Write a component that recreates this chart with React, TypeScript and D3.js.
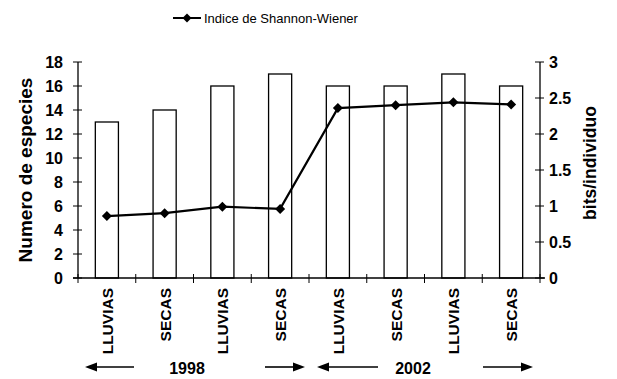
import React from "react";
import * as d3 from "d3";

const categories = ["LLUVIAS", "SECAS", "LLUVIAS", "SECAS", "LLUVIAS", "SECAS", "LLUVIAS", "SECAS"];
const species = [13, 14, 16, 17, 16, 16, 17, 16];
const shannon = [0.86, 0.9, 0.99, 0.96, 2.36, 2.4, 2.44, 2.41];
const leftTicks = [0, 2, 4, 6, 8, 10, 12, 14, 16, 18];
const rightTicks = [0, 0.5, 1, 1.5, 2, 2.5, 3];
const years = ["1998", "2002"];
const legendLabel = "Indice de Shannon-Wiener";

const W = 617, H = 379;
const M = { left: 78, right: 540, top: 62, bottom: 278 };
const FONT = "Liberation Sans, Arial, sans-serif";

export default function App() {
  const idx = categories.map((_, i) => String(i));
  const x = d3.scaleBand().domain(idx).range([M.left, M.right]).paddingInner(0.6).paddingOuter(0.3);
  const xb = d3.scaleLinear().domain([0, categories.length]).range([M.left, M.right]);
  const yL = d3.scaleLinear().domain([0, 18]).range([M.bottom, M.top]);
  const yR = d3.scaleLinear().domain([0, 3]).range([M.bottom, M.top]);
  const cx = (i: number) => (x(String(i)) as number) + x.bandwidth() / 2;
  const line = d3.line<number>().x((_, i) => cx(i)).y((d) => yR(d));
  const diamond = (px: number, py: number, r = 5) =>
    `M${px},${py - r}L${px + r},${py}L${px},${py + r}L${px - r},${py}Z`;

  const arrow = (x1: number, x2: number, y: number, key: string) => {
    const dir = Math.sign(x2 - x1);
    return (
      <g key={key}>
        <line x1={x1} x2={x2 - dir * 8} y1={y} y2={y} stroke="#000" strokeWidth={1.6} />
        <path d={`M${x2},${y}L${x2 - dir * 12},${y - 4.5}L${x2 - dir * 12},${y + 4.5}Z`} fill="#000" />
      </g>
    );
  };

  return (
    <svg width={W} height={H} style={{ position: "absolute", left: 0, top: 0, background: "#fff" }} fontFamily={FONT}>
      <rect width={W} height={H} fill="#fff" />
      {/* legend */}
      <line x1={173} x2={201} y1={18} y2={18} stroke="#000" strokeWidth={2} />
      <path d={diamond(187, 18, 4.5)} fill="#000" />
      <text x={204} y={22.5} fontSize={13} fill="#000">{legendLabel}</text>

      {/* bars */}
      {species.map((v, i) => (
        <rect key={i} x={x(String(i))} y={yL(v)} width={x.bandwidth()} height={M.bottom - yL(v)}
          fill="#fff" stroke="#000" strokeWidth={1.3} />
      ))}

      {/* axes */}
      <line x1={M.left} x2={M.left} y1={M.top} y2={M.bottom} stroke="#000" strokeWidth={1.3} />
      <line x1={M.right} x2={M.right} y1={M.top} y2={M.bottom} stroke="#000" strokeWidth={1.3} />
      <line x1={M.left - 5} x2={M.right + 5} y1={M.bottom} y2={M.bottom} stroke="#000" strokeWidth={1.3} />
      {leftTicks.map((t) => (
        <g key={"l" + t}>
          <line x1={M.left - 5} x2={M.left + 4} y1={yL(t)} y2={yL(t)} stroke="#000" strokeWidth={1} />
          <text x={63} y={yL(t) + 6} textAnchor="end" fontSize={16} fontWeight="bold">{t}</text>
        </g>
      ))}
      {rightTicks.map((t) => (
        <g key={"r" + t}>
          <line x1={M.right - 5} x2={M.right + 4} y1={yR(t)} y2={yR(t)} stroke="#000" strokeWidth={1} />
          <text x={549} y={yR(t) + 6} textAnchor="start" fontSize={16} fontWeight="bold">{t}</text>
        </g>
      ))}
      {d3.range(categories.length + 1).map((i) => (
        <line key={"x" + i} x1={xb(i)} x2={xb(i)} y1={M.bottom - 4} y2={M.bottom + 5} stroke="#000" strokeWidth={1} />
      ))}

      {/* line */}
      <path d={line(shannon) || ""} fill="none" stroke="#000" strokeWidth={2.2} />
      {shannon.map((v, i) => (
        <path key={"d" + i} d={diamond(cx(i), yR(v))} fill="#000" />
      ))}

      {/* category labels */}
      {categories.map((c, i) => (
        <text key={"c" + i} transform={`translate(${cx(i) + 6},288) rotate(-90)`} textAnchor="end"
          fontSize={15.5} fontWeight="bold">{c}</text>
      ))}

      {/* year labels */}
      <text x={187} y={374} textAnchor="middle" fontSize={16} fontWeight="bold">{years[0]}</text>
      <text x={413} y={374} textAnchor="middle" fontSize={16} fontWeight="bold">{years[1]}</text>
      {arrow(134, 85, 367, "a1")}
      {arrow(265, 305, 367, "a2")}
      {arrow(378, 317, 367, "a3")}
      {arrow(483, 533, 367, "a4")}

      {/* axis titles */}
      <text transform={`translate(32,170) rotate(-90)`} textAnchor="middle" fontSize={19} fontWeight="bold">Numero de especies</text>
      <text transform={`translate(596,163) rotate(-90)`} textAnchor="middle" fontSize={17.5} fontWeight="bold">bits/individuo</text>
    </svg>
  );
}
